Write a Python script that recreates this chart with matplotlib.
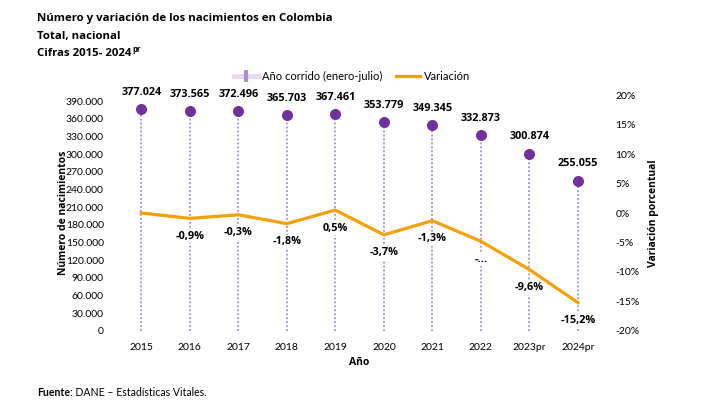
import matplotlib.pyplot as plt
from matplotlib.lines import Line2D
from matplotlib.ticker import FuncFormatter, MultipleLocator

# datos
anios = ['2015', '2016', '2017', '2018', '2019', '2020', '2021', '2022', '2023pr', '2024pr']
nacimientos = [377024, 373565, 372496, 365703, 367461, 353779, 349345, 332873, 300874, 255055]
variacion = [0.0, -0.9, -0.3, -1.8, 0.5, -3.7, -1.3, -4.8, -9.6, -15.2]
etiquetas_var = ['', '-0,9%', '-0,3%', '-1,8%', '0,5%', '-3,7%', '-1,3%', '-...', '-9,6%', '-15,2%']

MORADO = '#7030A0'
MORADO_CLARO = '#B08CCB'
NARANJA = '#F5A000'
FUENTE = ['Open Sans', 'DejaVu Sans']
TICKS = ['Lato', 'DejaVu Sans']

fig = plt.figure(figsize=(7.1, 4.05), dpi=100)
ax = fig.add_axes([0.158, 0.183, 0.697, 0.582])
ax2 = ax.twinx()

x = list(range(len(anios)))

# tallos punteados + marcadores
ax.vlines(x, 0, nacimientos, colors=MORADO_CLARO, linestyles=(0, (1, 1.2)), linewidth=1.3, zorder=1)
ax.scatter(x, nacimientos, s=48, color=MORADO, zorder=3)
for xi, n in zip(x, nacimientos):
    ax.annotate(f'{n:,}'.replace(',', '.'), (xi, n), xytext=(0, 8), textcoords='offset points',
                ha='center', va='bottom', fontsize=7.8, fontweight='bold', family=FUENTE)

ax.set_xlim(-0.6, len(anios) - 0.4)
ax.yaxis.set_major_locator(MultipleLocator(30000))
ax.set_ylim(0, 400000)
ax.yaxis.set_major_formatter(FuncFormatter(lambda v, p: f'{int(v):,}'.replace(',', '.')))
ax.set_xticks(x)
ax.set_xticklabels(anios)

# linea de variacion
ax2.plot(x, variacion, color=NARANJA, linewidth=2.3, zorder=4)
for xi, v, lab in zip(x, variacion, etiquetas_var):
    if lab:
        ax2.annotate(lab, (xi, v), xytext=(0, -9), textcoords='offset points',
                     ha='center', va='top', fontsize=7.8, fontweight='bold', family=FUENTE,
                     bbox=dict(boxstyle='square,pad=0.15', fc='white', ec='none'), zorder=3)
ax2.set_ylim(-20, 20)
ax2.yaxis.set_major_locator(MultipleLocator(5))
ax2.yaxis.set_major_formatter(FuncFormatter(lambda v, p: f'{int(v)}%'))

for a in (ax, ax2):
    for s in a.spines.values():
        s.set_visible(False)
    a.tick_params(length=0, labelsize=7.5)
    for t in a.get_xticklabels() + a.get_yticklabels():
        t.set_family(TICKS)

ax.tick_params(axis='x', pad=9)
ax.tick_params(axis='y', pad=6)
ax2.tick_params(axis='y', pad=6)

ax.set_xlabel('Año', fontsize=7.5, fontweight='bold', family=FUENTE, labelpad=3)
ax.set_ylabel('Número de nacimientos', fontsize=7.5, fontweight='bold', family=FUENTE, labelpad=-2)
ax2.set_ylabel('Variación porcentual', fontsize=7.5, fontweight='bold', family=FUENTE, labelpad=6)

# titulo
kw = dict(fontsize=8.2, fontweight='bold', family=FUENTE, va='center')
fig.text(37 / 710, 1 - 18 / 405, 'Número y variación de los nacimientos en Colombia', **kw)
fig.text(37 / 710, 1 - 36 / 405, 'Total, nacional', **kw)
t3 = fig.text(37 / 710, 1 - 54 / 405, 'Cifras 2015- 2024', **kw)

# leyenda
h1 = Line2D([], [], color='#E6DAEF', linewidth=3.5, marker='|', markersize=9,
            markeredgecolor=MORADO_CLARO, markeredgewidth=3)
h2 = Line2D([], [], color=NARANJA, linewidth=2.3)
fig.legend([h1, h2], ['Año corrido (enero-julio)', 'Variación'], loc='center',
           bbox_to_anchor=(352 / 710, 1 - 76 / 405), ncol=2, frameon=False,
           prop={'family': TICKS, 'size': 8}, handlelength=2.2, handletextpad=0.3,
           columnspacing=1.2)

# fuente
f1 = fig.text(37 / 710, 1 - 393 / 405, 'Fuente', fontsize=7.6, fontweight='bold',
              family=TICKS, va='center')

# superindice "pr" y resto de la fuente, colocados tras medir el texto
fig.canvas.draw()
r = fig.canvas.get_renderer()
bb3 = t3.get_window_extent(r).transformed(fig.transFigure.inverted())
fig.text(bb3.x1 + 1 / 710, 1 - 50 / 405, 'pr', fontsize=5.5, fontweight='bold',
         family=FUENTE, ha='left', va='center')
bb1 = f1.get_window_extent(r).transformed(fig.transFigure.inverted())
fig.text(bb1.x1, 1 - 393 / 405, ': DANE – Estadísticas Vitales.', fontsize=7.6,
         family=TICKS, ha='left', va='center')

fig.savefig('out.png', dpi=100)
